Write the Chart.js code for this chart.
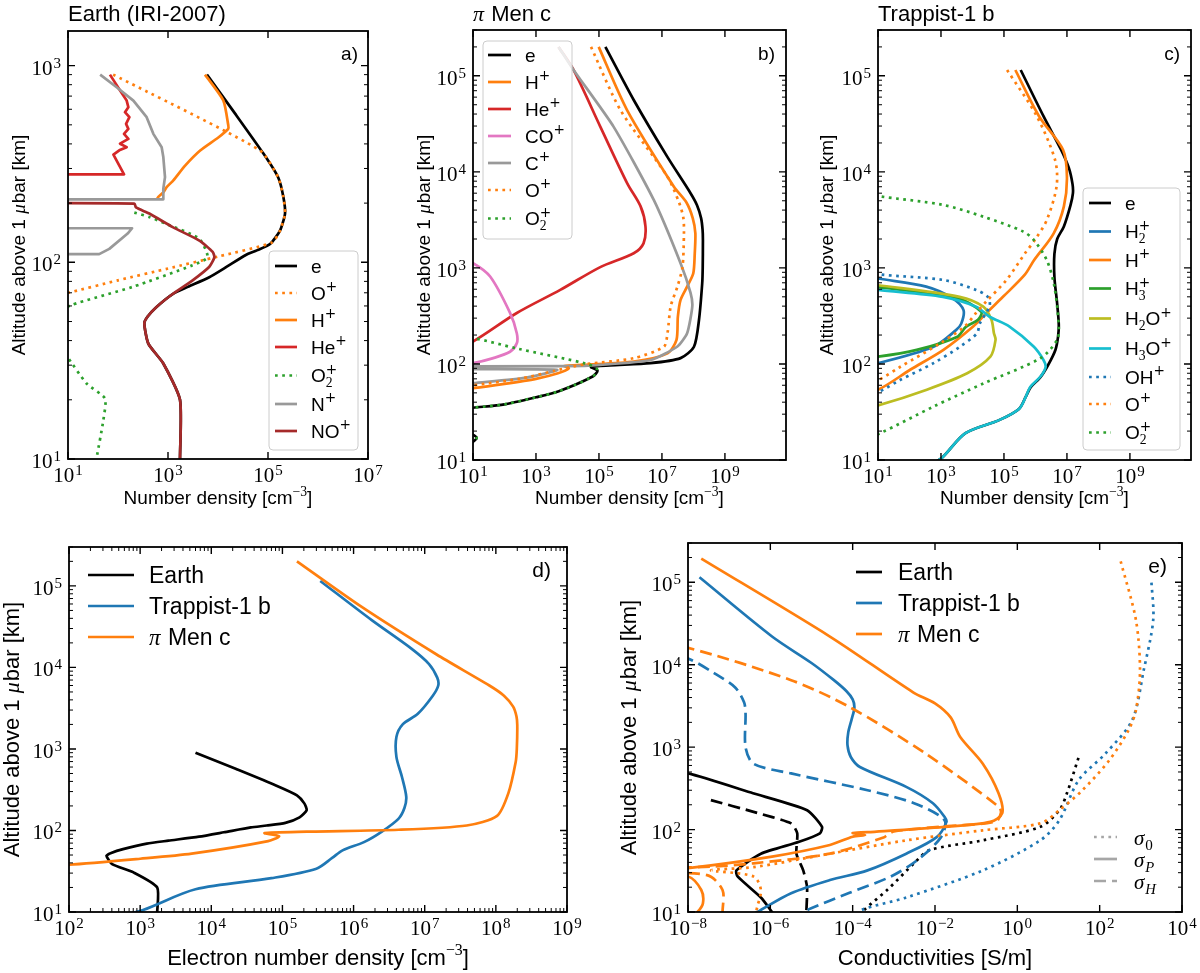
<!DOCTYPE html>
<html>
<head>
<meta charset="utf-8">
<script src="https://cdn.jsdelivr.net/npm/chart.js@4.4.1/dist/chart.umd.min.js"></script>
<style>
  html, body { margin: 0; padding: 0; background: #fff; }
  #fig { position: relative; width: 1200px; height: 973px; }
  #fig canvas { position: absolute; left: 0; top: 0; }
</style>
</head>
<body>
<div id="fig">
  <canvas id="ca" width="1200" height="973"></canvas>
  <canvas id="cb" width="1200" height="973"></canvas>
  <canvas id="cc" width="1200" height="973"></canvas>
  <canvas id="cd" width="1200" height="973"></canvas>
  <canvas id="ce" width="1200" height="973"></canvas>
</div>
<script>
// values are [density or conductivity, altitude km] pairs

// a) Earth (IRI-2007)
const aE   = [[6e3,900],[2.2e4,570],[8.1e4,357],[1.6e5,270],[2.03e5,215],[2.19e5,177],[1.74e5,145],[1.1e5,124],[6e4,115],[3.6e4,109],[1.5e4,95],[6.7e3,84],[2.5e3,75],[1.24e3,69],[575,59],[392,53],[336,49],[404,38.6],[806,30.6],[1738,20],[1738,10]];
const aOp  = [[80,900],[6.9e4,371],[1.6e5,270],[2.03e5,215],[2.19e5,177],[1.74e5,145],[1.2e5,126],[1e4,107],[1e3,93],[100,81],[10,70],[1,62]];
const aHp  = [[5.5e3,900],[1.28e4,664],[1.6e4,500],[1.6e4,477],[1e4,430],[4.4e3,370],[2.2e3,310],[1.28e3,261],[940,241],[807,227],[641,215],[600,209]];
const aHep = [[69,900],[110,747],[149,664],[161,615],[138,580],[169,547],[145,506],[161,477],[132,450],[161,424],[110,401],[149,385],[106,371],[81,353],[132,280],[1,280]];
const aO2p = [[212,179],[423,170],[912,157],[4.2e3,132],[6.2e3,106],[3.1e3,96.6],[196,75],[11.5,60.5],[3,50],[9,34],[23.6,24.2],[55,20.3],[51,15.8],[37,10]];
const aNp  = [[44,900],[94,776],[203,664],[374,547],[509,450],[747,385],[806,343],[871,271],[806,237],[806,209],[0.01,209],[0.01,149],[191,149],[156,140],[67,117],[42,110],[0.01,110]];
const aNOp = [[0.01,199],[212,199],[229,190],[423,177],[1240,151],[4240,129],[7820,113],[8450,106],[6710,95],[3110,81],[1240,69],[575,59],[392,53],[336,49],[404,38.6],[806,30.6],[1738,20],[1738,10]];

// b) pi Men c
const bE   = [[1.6e5,2e5],[1.27e6,5.6e4],[1.47e7,1.44e4],[8.1e7,6000],[1.3e8,4500],[1.75e8,3300],[1.95e8,2500],[2.0e8,1950],[1.97e8,1000],[1.9e8,692],[1.5e8,287],[1.04e8,151],[3.9e7,115],[4.3e6,102],[2.2e5,96.7],[5.6e4,93],[9e4,85],[6.3e4,74],[5.3e3,52],[1e3,45],[100,38],[10,35],[1,32],[1,25],[13,17],[1,10.5]];
const bHp  = [[9.8e4,2e5],[7.8e5,4.4e4],[2.4e7,7000],[6e7,4800],[9.5e7,3300],[1.15e8,2300],[1.1e8,1400],[9.9e7,881],[6.3e7,638],[3.9e7,464],[3.2e7,309],[2.9e7,178],[1.5e7,129],[1.27e6,106],[3.2e4,98],[8e3,95],[1.1e4,90],[5e3,80],[1e3,70],[100,62],[10,56],[1,52]];
const bHep = [[5.2e3,2e5],[1.56e4,1.15e5],[1.1e5,2.96e4],[7.9e5,7600],[2.1e6,4370],[3e6,2700],[2.6e6,1800],[1.27e6,1420],[1.1e5,1020],[5.9e3,590],[246,339],[10,171],[1,120]];
const bCOp = [[3,1300],[10,1120],[35,813],[150,340],[246,209],[246,164],[150,134],[44,115],[10,102],[3,98]];
const bCp  = [[5.2e3,2e5],[1.56e4,1.15e5],[2.9e5,2.96e4],[5.5e6,5100],[3.9e7,1120],[8.1e7,550],[9.2e7,398],[6.3e7,209],[3.1e7,152],[4.4e6,110],[1.1e5,98],[1e4,95],[0.01,93],[0.01,88],[4.6e3,87],[500,72],[10,63],[1,58]];
const bOp  = [[5.6e4,2e5],[4.8e5,4.4e4],[1.5e7,8900],[3.5e7,4800],[4.8e7,3300],[5e7,2290],[4.5e7,1020],[3.1e7,638],[1.9e7,400],[1.5e7,209],[1.15e7,151],[1.27e6,115],[4.2e4,100],[1.5e4,94],[4e3,85],[300,70],[10,60],[1,55]];
const bO2p = [[1,200],[10,186],[246,145],[4.2e4,100],[8.7e4,88],[6.3e4,74],[5.3e3,52],[1e3,45],[100,38],[10,35],[1,32],[1,25],[13,17],[1,10.5]];

// c) Trappist-1 b
const cE    = [[3.4e5,1.15e5],[1.8e6,3.8e4],[6.5e6,1.7e4],[1.15e7,1.1e4],[1.5e7,7500],[1.55e7,6000],[1.3e7,4500],[8e6,2700],[4.9e6,2000],[4e6,1400],[4e6,800],[4.8e6,450],[5.5e6,260],[5.2e6,190],[4.3e6,140],[2.5e6,97],[1.4e6,72],[7e5,57],[5e5,46],[3e5,34],[7e4,26],[6e3,19],[1.1e3,10.6],[500,9]];
const cH2p  = [[1,900],[10,776],[340,638],[2400,480],[5200,363],[4400,263],[3000,225],[580,151],[10,102],[1,90]];
const cHp   = [[2.3e5,1.15e5],[1.3e6,3.8e4],[7.5e6,1.7e4],[1e7,8900],[8e6,4370],[3.8e6,2290],[9e5,1200],[4.6e5,850],[9.3e4,500],[2.8e4,340],[1.05e4,245],[1.2e3,140],[105,87],[10,54],[1,45]];
const cH3p  = [[1,690],[10,630],[3000,490],[1.9e4,350],[1.5e4,288],[6300,245],[3.2e3,191],[170,140],[10,119],[1,112]];
const cH2Op = [[1,720],[10,660],[3900,500],[2.2e4,395],[4e4,288],[4.8e4,209],[5.4e4,178],[3.7e4,119],[6.8e3,80],[355,54],[10,37],[1,31]];
const cH3Op = [[1,650],[10,590],[1150,500],[1.3e4,395],[3.5e4,310],[1.5e5,245],[8.9e5,151],[1.8e6,110],[2.1e6,93],[1.45e6,74],[6.9e5,58],[5e5,46],[3e5,34],[7e4,26],[6e3,19],[1.1e3,10.6],[500,9]];
const cOHp  = [[1,1000],[10,860],[1150,750],[1.3e4,590],[3.1e4,496],[3.5e4,400],[1.7e4,263],[1.4e4,209],[4.1e3,152],[580,102],[50,68],[10,51],[1,42]];
const cOp   = [[1.26e5,1.15e5],[1.1e6,3.8e4],[4.2e6,1.33e4],[4.7e6,7100],[2.3e6,3160],[1e6,2000],[4.6e5,1410],[1.2e5,750],[2.8e4,450],[1.3e4,340],[5.6e3,245],[940,164],[50,93],[10,68],[1,55]];
const cO2p  = [[1,6500],[10,5600],[1150,4530],[2.3e4,3400],[4e5,2400],[8.9e5,1950],[2.3e6,1200],[4e6,640],[5.5e6,245],[4.9e6,178],[1.45e6,115],[2.3e4,63],[580,36],[11.5,19],[1,14]];

// e) conductivities [S/m]: s0 = specific, sP = Pedersen, sH = Hall
const eE0 = [[1.5e-4,9],[1.9e-4,10.6],[6.9e-4,18.5],[3.1e-3,39],[7.2e-3,56],[0.145,74],[3.6,108],[10.5,172],[16,276],[31,760]];
const eEP = [[1e-9,560],[1e-8,480],[3.8e-7,276],[7.8e-6,172],[1.8e-5,108],[1.6e-5,90],[5e-6,71],[5.9e-7,51],[1.5e-7,32],[1.6e-7,27],[5.9e-7,15],[1.1e-6,10],[1.5e-6,8]];
const eEH = [[3.6e-8,228],[3.9e-7,164],[3.2e-6,119],[4.5e-6,90],[4.3e-6,51],[6.3e-6,32],[7.8e-6,20],[7.5e-6,10],[7.5e-6,8]];
const eT0 = [[1.5e-4,9],[1.55e-4,10.5],[2e-3,15],[0.145,32],[3.6,74],[10.5,130],[31,400],[138,836],[616,2130],[1170,8500],[2000,3.5e4],[1800,1.05e5]];
const eTP = [[1.9e-8,1.15e5],[1.1e-6,2.2e4],[1e-5,1.05e4],[3.5e-5,6500],[7e-5,4800],[1e-4,3800],[1.1e-4,3000],[9.5e-5,2200],[7.8e-5,1500],[7.5e-5,1050],[9e-5,760],[1.5e-4,575],[2e-3,330],[8.9e-3,209],[0.017,143],[0.019,124],[0.011,81],[2e-3,51],[2.3e-4,32],[2.8e-5,24.4],[3.2e-6,16.9],[4.8e-7,10],[2e-7,8]];
const eTH = [[1e-9,1.6e4],[1e-8,1.19e4],[4.5e-8,7800],[1.4e-7,5300],[2.3e-7,3500],[2.5e-7,2570],[2.5e-7,1000],[3.9e-7,630],[3.2e-6,480],[2.3e-4,300],[3.1e-3,209],[0.017,130],[0.014,81],[3.8e-3,43],[8.5e-4,27],[8.1e-5,17],[9.5e-6,11],[4e-6,9]];
const eM0 = [[324,1.8e5],[760,3.5e4],[955,8500],[760,2800],[500,1600],[170,690],[38,300],[10.5,172],[3.6,119],[0.145,98],[2e-3,74],[2.8e-5,51],[3.9e-7,35],[3.6e-8,32],[3.9e-7,27],[5.9e-7,18.5],[4.8e-7,11.5],[4.3e-7,9]];
const eMP = [[2.1e-8,1.94e5],[2.8e-5,2.2e4],[3e-3,4600],[0.01,3400],[0.024,2300],[0.041,1330],[0.145,630],[0.35,276],[0.43,158],[0.22,124],[0.017,108],[2.3e-4,93],[1e-4,91],[2e-4,86],[1e-4,82],[2.8e-5,65],[1.1e-6,47],[1e-8,34],[1e-9,31],[1e-9,29],[1e-8,27],[2.1e-8,18.5],[2.3e-8,12.7],[1.7e-8,10],[1e-8,8]];
const eMH = [[1e-9,1.8e4],[1e-8,1.6e4],[3.2e-6,6500],[8.1e-5,3100],[5.9e-3,836],[0.35,190],[0.4,160],[0.3,125],[0.02,110],[1e-3,95],[7e-4,86],[5.6e-4,80],[2.8e-5,51],[3.9e-7,39],[3.6e-8,35.5],[1e-9,33],[1e-9,30],[2.9e-8,28],[6.9e-8,18.5],[6.9e-8,10],[6.9e-8,8]];

const BLACK = '#000000', BLUE = '#1f77b4', ORANGE = '#ff7f0e', GREEN = '#2ca02c', RED = '#d62728';
const PINK = '#e377c2', GRAY = '#999999', OLIVE = '#bcbd22', CYAN = '#17becf', BROWN = '#a52a2a', LGRAY = '#a6a6a6';
const SANS = '"Liberation Sans", Arial, Helvetica, sans-serif';
const SERIF = '"Liberation Serif", "Times New Roman", serif';
const PLUS = '"DejaVu Sans", sans-serif';
const DASH = { solid: [], dot: [2.7, 4.5], dash: [12, 6] };
const LW = 2.7;

function line(pts, color, style, tension) {
  return {
    data: pts.map(p => ({ x: p[0], y: p[1] })),
    borderColor: color, backgroundColor: color,
    borderWidth: LW, borderDash: DASH[style || 'solid'], borderCapStyle: 'butt', borderJoinStyle: 'round',
    showLine: true, pointRadius: 0, fill: false,
    tension: tension === undefined ? 0.3 : tension
  };
}

// tiny markup: ^x / ^{..} superscript, _x / _{..} subscript, $..$ math italic
function parseRich(s) {
  const runs = []; let math = false; let i = 0;
  while (i < s.length) {
    const c = s[i];
    if (c === '$') { math = !math; i++; continue; }
    if (c === '^' || c === '_') {
      let t;
      if (s[i + 1] === '{') { const j = s.indexOf('}', i); t = s.slice(i + 2, j); i = j + 1; }
      else { t = s[i + 1]; i += 2; }
      runs.push({ t: t.replace(/\$/g, ''), lvl: c === '^' ? 1 : -1, math });
      continue;
    }
    const last = runs[runs.length - 1];
    if (last && last.lvl === 0 && last.math === math) last.t += c;
    else runs.push({ t: c, lvl: 0, math });
    i++;
  }
  return runs;
}

function drawRich(ctx, s, x, y, size, align) {
  const runs = parseRich(s);
  const items = []; let cx = 0; let lastSub = null;
  for (const r of runs) {
    let font;
    if (r.math) font = 'italic ' + (r.lvl ? size * 0.7 : size) + 'px ' + SERIF;
    else if (r.lvl === 1 && r.t === '+') font = (size * 0.72) + 'px ' + PLUS;
    else if (r.lvl) font = (size * 0.72) + 'px ' + SERIF;
    else font = size + 'px ' + SANS;
    ctx.font = font;
    const w = ctx.measureText(r.t).width;
    const dy = r.lvl === 1 ? -0.44 * size : (r.lvl === -1 ? 0.24 * size : 0);
    let rx = cx;
    if (r.lvl === 1 && lastSub) { rx = lastSub.x; cx = Math.max(lastSub.x + lastSub.w, rx + w); }
    else cx = rx + w + (r.math && !r.lvl ? 1 : 0);
    items.push({ t: r.t, font, x: rx, dy });
    lastSub = r.lvl === -1 ? { x: rx, w } : null;
  }
  const x0 = align === 'center' ? x - cx / 2 : (align === 'right' ? x - cx : x);
  ctx.textAlign = 'left'; ctx.textBaseline = 'alphabetic';
  for (const it of items) { ctx.font = it.font; ctx.fillText(it.t, x0 + it.x, y + it.dy); }
}

function drawPow(ctx, e, x, y, align) {
  const s1 = '10', s2 = e < 0 ? '\u2212' + (-e) : String(e);
  ctx.font = '21px ' + SERIF; const w1 = ctx.measureText(s1).width;
  ctx.font = '15px ' + SERIF; const w2 = ctx.measureText(s2).width;
  const w = w1 + 1 + w2;
  const x0 = align === 'center' ? x - w / 2 : (align === 'right' ? x - w : x);
  ctx.textAlign = 'left'; ctx.textBaseline = 'alphabetic';
  ctx.font = '21px ' + SERIF; ctx.fillText(s1, x0, y);
  ctx.font = '15px ' + SERIF; ctx.fillText(s2, x0 + w1 + 1, y - 7);
}

function drawLegend(ctx, L) {
  if (L.frame) {
    const [fx, fy, fw, fh] = L.frame, r = 4;
    ctx.beginPath();
    ctx.moveTo(fx + r, fy); ctx.lineTo(fx + fw - r, fy); ctx.arcTo(fx + fw, fy, fx + fw, fy + r, r);
    ctx.lineTo(fx + fw, fy + fh - r); ctx.arcTo(fx + fw, fy + fh, fx + fw - r, fy + fh, r);
    ctx.lineTo(fx + r, fy + fh); ctx.arcTo(fx, fy + fh, fx, fy + fh - r, r);
    ctx.lineTo(fx, fy + r); ctx.arcTo(fx, fy, fx + r, fy, r); ctx.closePath();
    ctx.fillStyle = 'rgba(255,255,255,0.8)'; ctx.fill();
    ctx.setLineDash([]); ctx.lineWidth = 1; ctx.strokeStyle = '#cccccc'; ctx.stroke();
  }
  let y = L.first;
  L.items.forEach((it, i) => {
    if (i) {
      const sub = (L.subExtra || 0) * ((L.items[i - 1].label.includes('_') ? 1 : 0) + (it.label.includes('_') ? 1 : 0));
      y += L.step + sub;
    }
    ctx.strokeStyle = it.color; ctx.lineWidth = LW; ctx.lineCap = 'butt';
    ctx.setLineDash(DASH[it.style || 'solid']);
    ctx.beginPath(); ctx.moveTo(L.line[0], y); ctx.lineTo(L.line[1], y); ctx.stroke();
    ctx.setLineDash([]);
    ctx.fillStyle = '#000';
    drawRich(ctx, it.label, L.textX, y + 0.36 * L.font, L.font, 'left');
  });
}

function framePlugin(cfg) {
  return {
    id: 'frame',
    afterDatasetsDraw(chart) {
      const { ctx, chartArea: a } = chart;
      const xs = chart.scales.x, ys = chart.scales.y;
      ctx.save();
      ctx.setLineDash([]); ctx.strokeStyle = '#000'; ctx.fillStyle = '#000';
      // inward ticks, all four sides
      for (let e = Math.floor(Math.log10(ys.min)); e <= Math.ceil(Math.log10(ys.max)); e++) {
        for (let m = 1; m < 10; m++) {
          const v = m * Math.pow(10, e);
          if (v < ys.min * 0.999 || v > ys.max * 1.001) continue;
          const p = ys.getPixelForValue(v), len = m === 1 ? 7 : 4;
          ctx.lineWidth = m === 1 ? 1.4 : 1;
          ctx.beginPath(); ctx.moveTo(a.left, p); ctx.lineTo(a.left + len, p);
          ctx.moveTo(a.right, p); ctx.lineTo(a.right - len, p); ctx.stroke();
        }
      }
      for (let e = Math.floor(Math.log10(xs.min)); e <= Math.ceil(Math.log10(xs.max)); e++) {
        for (let m = 1; m < 10; m++) {
          if (m === 1 && !cfg.xLab.includes(e)) continue;
          if (m > 1 && !cfg.xMinor) continue;
          const v = m * Math.pow(10, e);
          if (v < xs.min * 0.999 || v > xs.max * 1.001) continue;
          const p = xs.getPixelForValue(v), len = m === 1 ? 7 : 4;
          ctx.lineWidth = m === 1 ? 1.4 : 1;
          ctx.beginPath(); ctx.moveTo(p, a.bottom); ctx.lineTo(p, a.bottom - len);
          ctx.moveTo(p, a.top); ctx.lineTo(p, a.top + len); ctx.stroke();
        }
      }
      ctx.lineWidth = 1.8;
      ctx.strokeRect(a.left, a.top, a.right - a.left, a.bottom - a.top);
      cfg.xLab.forEach(e => drawPow(ctx, e, xs.getPixelForValue(Math.pow(10, e)), a.bottom + 23, 'center'));
      cfg.yLab.forEach(e => drawPow(ctx, e, a.left - 7, ys.getPixelForValue(Math.pow(10, e)) + 9, 'right'));
      drawRich(ctx, cfg.xTitle, (a.left + a.right) / 2, cfg.xTitleY, cfg.axisFont, 'center');
      ctx.save();
      ctx.translate(cfg.yTitleX, (a.top + a.bottom) / 2); ctx.rotate(-Math.PI / 2);
      drawRich(ctx, 'Altitude above 1 $\u03bc$bar [km]', 0, 0, cfg.axisFont, 'center');
      ctx.restore();
      if (cfg.title) drawRich(ctx, cfg.title, a.left, 21, 22, 'left');
      ctx.font = cfg.letter[3] + 'px ' + SANS; ctx.textAlign = 'right'; ctx.fillStyle = '#000';
      ctx.fillText(cfg.letter[0], cfg.letter[1], cfg.letter[2]);
      (cfg.legends || []).forEach(L => drawLegend(ctx, L));
      ctx.restore();
    }
  };
}

function makePanel(id, box, xr, yr, datasets, cfg) {
  datasets.forEach((d, i) => { d.order = -i; });
  return new Chart(document.getElementById(id), {
    type: 'scatter',
    data: { datasets },
    options: {
      responsive: false, animation: false, events: [],
      layout: { padding: { left: box[0], top: box[1], right: 1200 - box[2], bottom: 973 - box[3] } },
      elements: { line: { capBezierPoints: false } },
      plugins: { legend: { display: false }, tooltip: { enabled: false } },
      scales: {
        x: { type: 'logarithmic', min: xr[0], max: xr[1], bounds: 'data', display: false },
        y: { type: 'logarithmic', min: yr[0], max: yr[1], bounds: 'data', display: false }
      }
    },
    plugins: [framePlugin(cfg)]
  });
}

const it = (label, color, style) => ({ label, color, style });

makePanel('ca', [68, 31, 368, 459], [10, 1e7], [10, 1500], [
  line(aE, BLACK, 'solid', 0.2), line(aOp, ORANGE, 'dot', 0.2), line(aHp, ORANGE, 'solid', 0.2),
  line(aHep, RED, 'solid', 0), line(aO2p, GREEN, 'dot', 0.2), line(aNp, GRAY, 'solid', 0), line(aNOp, BROWN, 'solid', 0.2)
], {
  xLab: [1, 3, 5, 7], xMinor: false, yLab: [1, 2, 3], title: 'Earth (IRI-2007)', letter: ['a)', 358, 60, 19],
  xTitle: 'Number density [cm^{\u22123}]', xTitleY: 504, yTitleX: 25, axisFont: 19,
  legends: [{ frame: [269, 251, 89, 199], first: 266, step: 27, subExtra: 1.5, line: [275, 297], textX: 311, font: 19,
    items: [it('e', BLACK), it('O^+', ORANGE, 'dot'), it('H^+', ORANGE), it('He^+', RED), it('O_2^+', GREEN, 'dot'), it('N^+', GRAY), it('NO^+', BROWN)] }]
});

makePanel('cb', [473, 30, 786, 460], [10, 8.7e10], [10, 3e5], [
  line(bE, BLACK, 'solid', 0.25), line(bHp, ORANGE, 'solid', 0.25), line(bHep, RED), line(bCOp, PINK), line(bCp, GRAY, 'solid', 0.2),
  line(bOp, ORANGE, 'dot', 0.25), line(bO2p, GREEN, 'dot')
], {
  xLab: [1, 3, 5, 7, 9], xMinor: false, yLab: [1, 2, 3, 4, 5], title: '$\u03c0$ Men c', letter: ['b)', 775, 60, 19],
  xTitle: 'Number density [cm^{\u22123}]', xTitleY: 504, yTitleX: 430, axisFont: 19,
  legends: [{ frame: [483, 41, 89, 198], first: 55, step: 27, subExtra: 1.5, line: [488, 511], textX: 525, font: 19,
    items: [it('e', BLACK), it('H^+', ORANGE), it('He^+', RED), it('CO^+', PINK), it('C^+', GRAY), it('O^+', ORANGE, 'dot'), it('O_2^+', GREEN, 'dot')] }]
});

makePanel('cc', [878, 30, 1191, 460], [10, 8.7e10], [10, 3e5], [
  line(cE, BLACK), line(cH2p, BLUE), line(cHp, ORANGE), line(cH3p, GREEN), line(cH2Op, OLIVE), line(cH3Op, CYAN),
  line(cOHp, BLUE, 'dot'), line(cOp, ORANGE, 'dot'), line(cO2p, GREEN, 'dot')
], {
  xLab: [1, 3, 5, 7, 9], xMinor: false, yLab: [1, 2, 3, 4, 5], title: 'Trappist-1 b', letter: ['c)', 1180, 60, 19],
  xTitle: 'Number density [cm^{\u22123}]', xTitleY: 504, yTitleX: 833, axisFont: 19,
  legends: [{ frame: [1083, 188, 97, 262], first: 203, step: 27, subExtra: 1.5, line: [1089, 1111], textX: 1125, font: 19,
    items: [it('e', BLACK), it('H_2^+', BLUE), it('H^+', ORANGE), it('H_3^+', GREEN), it('H_2O^+', OLIVE), it('H_3O^+', CYAN),
      it('OH^+', BLUE, 'dot'), it('O^+', ORANGE, 'dot'), it('O_2^+', GREEN, 'dot')] }]
});

makePanel('cd', [69, 547, 567, 912], [100, 1e9], [10, 3e5], [
  line(aE, BLACK, 'solid', 0.2), line(cE, BLUE), line(bE, ORANGE, 'solid', 0.25)
], {
  xLab: [2, 3, 4, 5, 6, 7, 8, 9], xMinor: true, yLab: [1, 2, 3, 4, 5], title: '', letter: ['d)', 551, 577, 21],
  xTitle: 'Electron number density [cm^{\u22123}]', xTitleY: 965, yTitleX: 19, axisFont: 22,
  legends: [{ frame: null, first: 575, step: 31, line: [88, 134], textX: 149, font: 23,
    items: [it('Earth', BLACK), it('Trappist-1 b', BLUE), it('$\u03c0$ Men c', ORANGE)] }]
});

makePanel('ce', [688, 543, 1182, 912], [1e-8, 1e4], [10, 3e5], [
  line(eE0, BLACK, 'dot'), line(eEP, BLACK, 'solid', 0.2), line(eEH, BLACK, 'dash', 0.2),
  line(eT0, BLUE, 'dot'), line(eTP, BLUE), line(eTH, BLUE, 'dash'),
  line(eM0, ORANGE, 'dot'), line(eMP, ORANGE), line(eMH, ORANGE, 'dash')
], {
  xLab: [-8, -6, -4, -2, 0, 2, 4], xMinor: false, yLab: [1, 2, 3, 4, 5], title: '', letter: ['e)', 1167, 573, 21],
  xTitle: 'Conductivities [S/m]', xTitleY: 965, yTitleX: 636, axisFont: 22,
  legends: [
    { frame: null, first: 572, step: 31, line: [856, 882], textX: 898, font: 23,
      items: [it('Earth', BLACK), it('Trappist-1 b', BLUE), it('$\u03c0$ Men c', ORANGE)] },
    { frame: null, first: 837, step: 22, line: [1094, 1117], textX: 1134, font: 21,
      items: [it('$\u03c3$_0', LGRAY, 'dot'), it('$\u03c3_P$', LGRAY), it('$\u03c3_H$', LGRAY, 'dash')] }
  ]
});
</script>
</body>
</html>
